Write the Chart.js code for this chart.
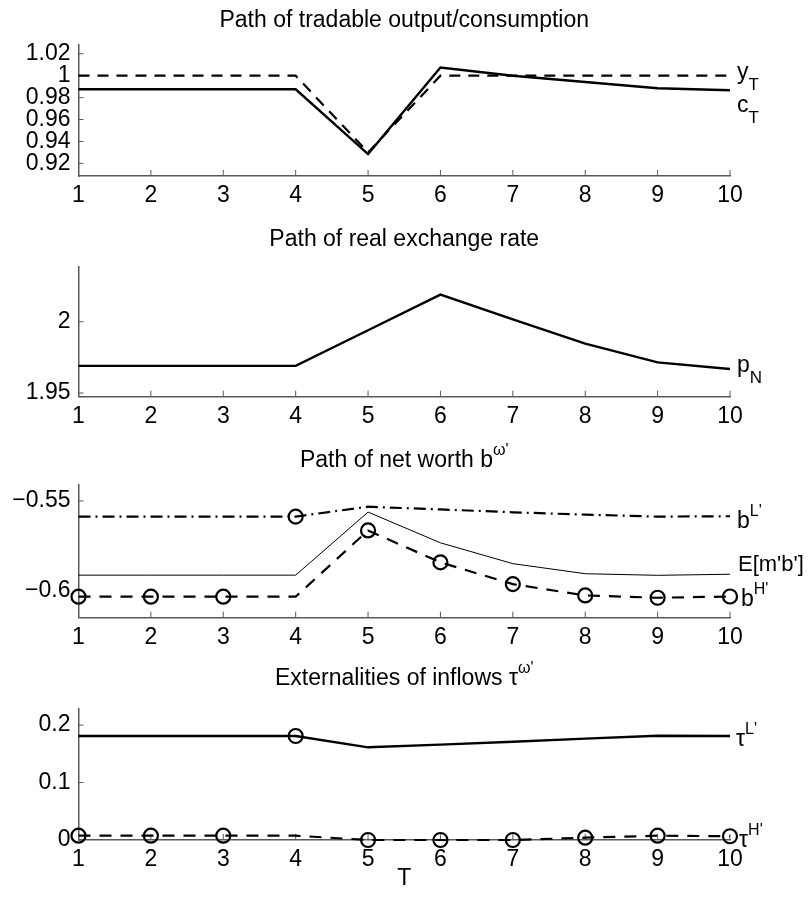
<!DOCTYPE html>
<html>
<head>
<meta charset="utf-8">
<script src="https://cdn.jsdelivr.net/npm/chart.js@4.4.1/dist/chart.umd.min.js"></script>
<style>
  body { margin: 0; background: #fff; }
  #wrap { position: relative; width: 810px; height: 899px; }
  canvas { position: absolute; left: 0; }
</style>
</head>
<body>
<div id="wrap">
  <canvas id="c1" width="810" height="220" style="top:0"></canvas>
  <canvas id="c2" width="810" height="220" style="top:220px"></canvas>
  <canvas id="c3" width="810" height="220" style="top:440px"></canvas>
  <canvas id="c4" width="810" height="239" style="top:660px"></canvas>
</div>
<script>
// periods on the x axis
const periods = ['1', '2', '3', '4', '5', '6', '7', '8', '9', '10'];

// panel 1: tradable output / consumption
const yT = [1, 1, 1, 1, 0.930, 1, 1, 1, 1, 1];
const cT = [0.9876, 0.9876, 0.9876, 0.9876, 0.9285, 1.0075, 1.0, 0.9943, 0.9886, 0.9867];
const ticks1 = [0.92, 0.94, 0.96, 0.98, 1, 1.02];
const tickLabels1 = ['0.92', '0.94', '0.96', '0.98', '1', '1.02'];

// panel 2: real exchange rate
const pN = [1.969, 1.969, 1.969, 1.969, 1.994, 2.019, 2.0017, 1.9846, 1.9715, 1.9668];
const ticks2 = [1.95, 2];
const tickLabels2 = ['1.95', '2'];

// panel 3: net worth
const bL = [-0.5587, -0.5587, -0.5587, -0.5587, -0.5532, -0.5547, -0.5563, -0.5576, -0.5587, -0.5585];
const Emb = [-0.5913, -0.5913, -0.5913, -0.5913, -0.5562, -0.5733, -0.5849, -0.5905, -0.5914, -0.5908];
const bH = [-0.6033, -0.6033, -0.6033, -0.6033, -0.5664, -0.5842, -0.5963, -0.6026, -0.6039, -0.6032];
const ticks3 = [-0.6, -0.55];
const tickLabels3 = ['\u22120.6', '\u22120.55'];

// panel 4: externalities of inflows
const tauL = [0.181, 0.181, 0.181, 0.181, 0.1613, 0.166, 0.171, 0.1765, 0.1815, 0.181];
const tauH = [0.0075, 0.0075, 0.0075, 0.0075, 0, 0, 0, 0.004, 0.0075, 0.0065];
const ticks4 = [0, 0.1, 0.2];
const tickLabels4 = ['0', '0.1', '0.2'];

// realised state each period (1 = low state, 0 = high state)
const lowState = [0, 0, 0, 1, 0, 0, 0, 0, 0, 0];

const AXIS = '#5a5a5a';
const FONT = '"Liberation Sans", Arial, Helvetica, sans-serif';

function partsWidth(ctx, parts) {
  let w = 0;
  parts.forEach(p => { ctx.font = p.size + 'px ' + FONT; w += ctx.measureText(p.t).width; });
  return w;
}
function drawParts(ctx, x, y, parts) {
  let cx = x;
  parts.forEach(p => {
    ctx.font = p.size + 'px ' + FONT;
    ctx.fillText(p.t, cx, y + (p.dy || 0));
    cx += ctx.measureText(p.t).width;
  });
}

const matlabLook = {
  id: 'matlabLook',
  beforeDatasetsDraw(chart) {
    const { ctx, chartArea: a, scales: { x, y } } = chart;
    ctx.save();
    ctx.strokeStyle = AXIS;
    ctx.lineWidth = 1;
    ctx.beginPath();
    x.ticks.forEach((t, i) => {
      const px = x.getPixelForTick(i);
      ctx.moveTo(px, a.bottom); ctx.lineTo(px, a.bottom - 6);
    });
    y.ticks.forEach(t => {
      const py = y.getPixelForValue(t.value);
      ctx.moveTo(a.left, py); ctx.lineTo(a.left + 5, py);
    });
    ctx.stroke();
    ctx.restore();
  },
  afterDraw(chart, args, opts) {
    const { ctx, chartArea: a, scales: { y } } = chart;
    ctx.save();
    ctx.fillStyle = '#000';
    ctx.textBaseline = 'alphabetic';
    const w = partsWidth(ctx, opts.title);
    drawParts(ctx, (a.left + a.right) / 2 - w / 2, opts.titleBaseline, opts.title);
    opts.labels.forEach(l => {
      const d = chart.data.datasets[l.ds].data;
      const py = y.getPixelForValue(d[d.length - 1]);
      drawParts(ctx, a.right + l.dx, py + l.dy, l.parts);
    });
    ctx.restore();
  }
};

function line(data, width, dash) {
  return {
    data: data, borderColor: '#000', borderWidth: width, borderDash: dash || [],
    pointRadius: 0, fill: false, tension: 0
  };
}
function withMarks(ds, marks) {
  ds.pointRadius = marks.map(m => m ? 7 : 0);
  ds.pointBorderColor = '#000';
  ds.pointBackgroundColor = 'rgba(0,0,0,0)';
  ds.pointBorderWidth = 2.2;
  ds.clip = false;
  return ds;
}

function panel(id, cfg) {
  const canvas = document.getElementById(id);
  return new Chart(canvas, {
    type: 'line',
    data: { labels: periods, datasets: cfg.datasets },
    plugins: [matlabLook],
    options: {
      responsive: false,
      animation: false,
      layout: { padding: { top: cfg.top, right: 80, left: 0, bottom: 0 } },
      plugins: {
        legend: { display: false },
        tooltip: { enabled: false },
        matlabLook: { title: cfg.title, titleBaseline: cfg.titleBaseline, labels: cfg.labels }
      },
      scales: {
        x: {
          type: 'category',
          offset: false,
          grid: { drawOnChartArea: false, drawTicks: false },
          border: { color: AXIS, width: 1.5 },
          ticks: { color: '#000', font: { family: FONT, size: 23 }, padding: 6, maxRotation: 0, autoSkip: false },
          title: cfg.xTitle ? { display: true, text: cfg.xTitle, color: '#000', font: { family: FONT, size: 23 }, padding: { top: 0, bottom: 7 } } : { display: false },
          afterFit(s) { s.height = canvas.height - cfg.bottom; s.paddingLeft = 0; s.paddingRight = 0; }
        },
        y: {
          min: cfg.yMin, max: cfg.yMax,
          grid: { drawOnChartArea: false, drawTicks: false },
          border: { color: AXIS, width: 1.5 },
          ticks: {
            color: '#000', font: { family: FONT, size: 23 }, padding: 8, autoSkip: false,
            callback: v => cfg.tickLabels[cfg.ticks.indexOf(v)]
          },
          afterBuildTicks(s) { s.ticks = cfg.ticks.map(v => ({ value: v })); },
          afterFit(s) { s.width = 78.5; s.paddingTop = 0; s.paddingBottom = 0; }
        }
      }
    }
  });
}

panel('c1', {
  top: 45, bottom: 176, yMin: 0.9085, yMax: 1.028,
  ticks: ticks1, tickLabels: tickLabels1,
  title: [{ t: 'Path of tradable output/consumption', size: 23 }], titleBaseline: 26.5,
  datasets: [line(yT, 2.2, [11, 8]), line(cT, 2.4)],
  labels: [
    { ds: 0, dx: 7, dy: 3, parts: [{ t: 'y', size: 23 }, { t: 'T', size: 17, dy: 11.5 }] },
    { ds: 1, dx: 7, dy: 21.7, parts: [{ t: 'c', size: 23 }, { t: 'T', size: 17, dy: 11 }] }
  ]
});

panel('c2', {
  top: 46.7, bottom: 176.7, yMin: 1.9474, yMax: 2.0386,
  ticks: ticks2, tickLabels: tickLabels2,
  title: [{ t: 'Path of real exchange rate', size: 23 }], titleBaseline: 26,
  datasets: [line(pN, 2.4)],
  labels: [
    { ds: 0, dx: 7, dy: 2.5, parts: [{ t: 'p', size: 23 }, { t: 'N', size: 17, dy: 11.5 }] }
  ]
});

panel('c3', {
  top: 45, bottom: 177.7, yMin: -0.615, yMax: -0.5411,
  ticks: ticks3, tickLabels: tickLabels3,
  title: [{ t: 'Path of net worth b', size: 23 }, { t: "\u03c9'", size: 16, dy: -12 }], titleBaseline: 27,
  datasets: [
    withMarks(line(bL, 2.2, [12, 5, 2, 5]), lowState),
    line(Emb, 1),
    withMarks(line(bH, 2.2, [12, 9]), lowState.map(s => 1 - s))
  ],
  labels: [
    { ds: 0, dx: 7, dy: 11.3, parts: [{ t: 'b', size: 23 }, { t: "L'", size: 16, dy: -12 }] },
    { ds: 1, dx: 8, dy: -3.5, parts: [{ t: "E[m'b']", size: 22 }] },
    { ds: 2, dx: 11, dy: 9, parts: [{ t: 'b', size: 23 }, { t: "H'", size: 16, dy: -12 }] }
  ]
});

panel('c4', {
  top: 49, bottom: 180, yMin: 0, yMax: 0.228,
  ticks: ticks4, tickLabels: tickLabels4, xTitle: 'T',
  title: [{ t: 'Externalities of inflows \u03c4', size: 23 }, { t: "\u03c9'", size: 16, dy: -12 }], titleBaseline: 25,
  datasets: [
    withMarks(line(tauL, 2.4), lowState),
    withMarks(line(tauH, 2.2, [12, 9]), lowState.map(s => 1 - s))
  ],
  labels: [
    { ds: 0, dx: 6, dy: 10, parts: [{ t: '\u03c4', size: 23 }, { t: "L'", size: 16, dy: -12 }] },
    { ds: 1, dx: 9, dy: 10.5, parts: [{ t: '\u03c4', size: 23 }, { t: "H'", size: 16, dy: -12 }] }
  ]
});
</script>
</body>
</html>
